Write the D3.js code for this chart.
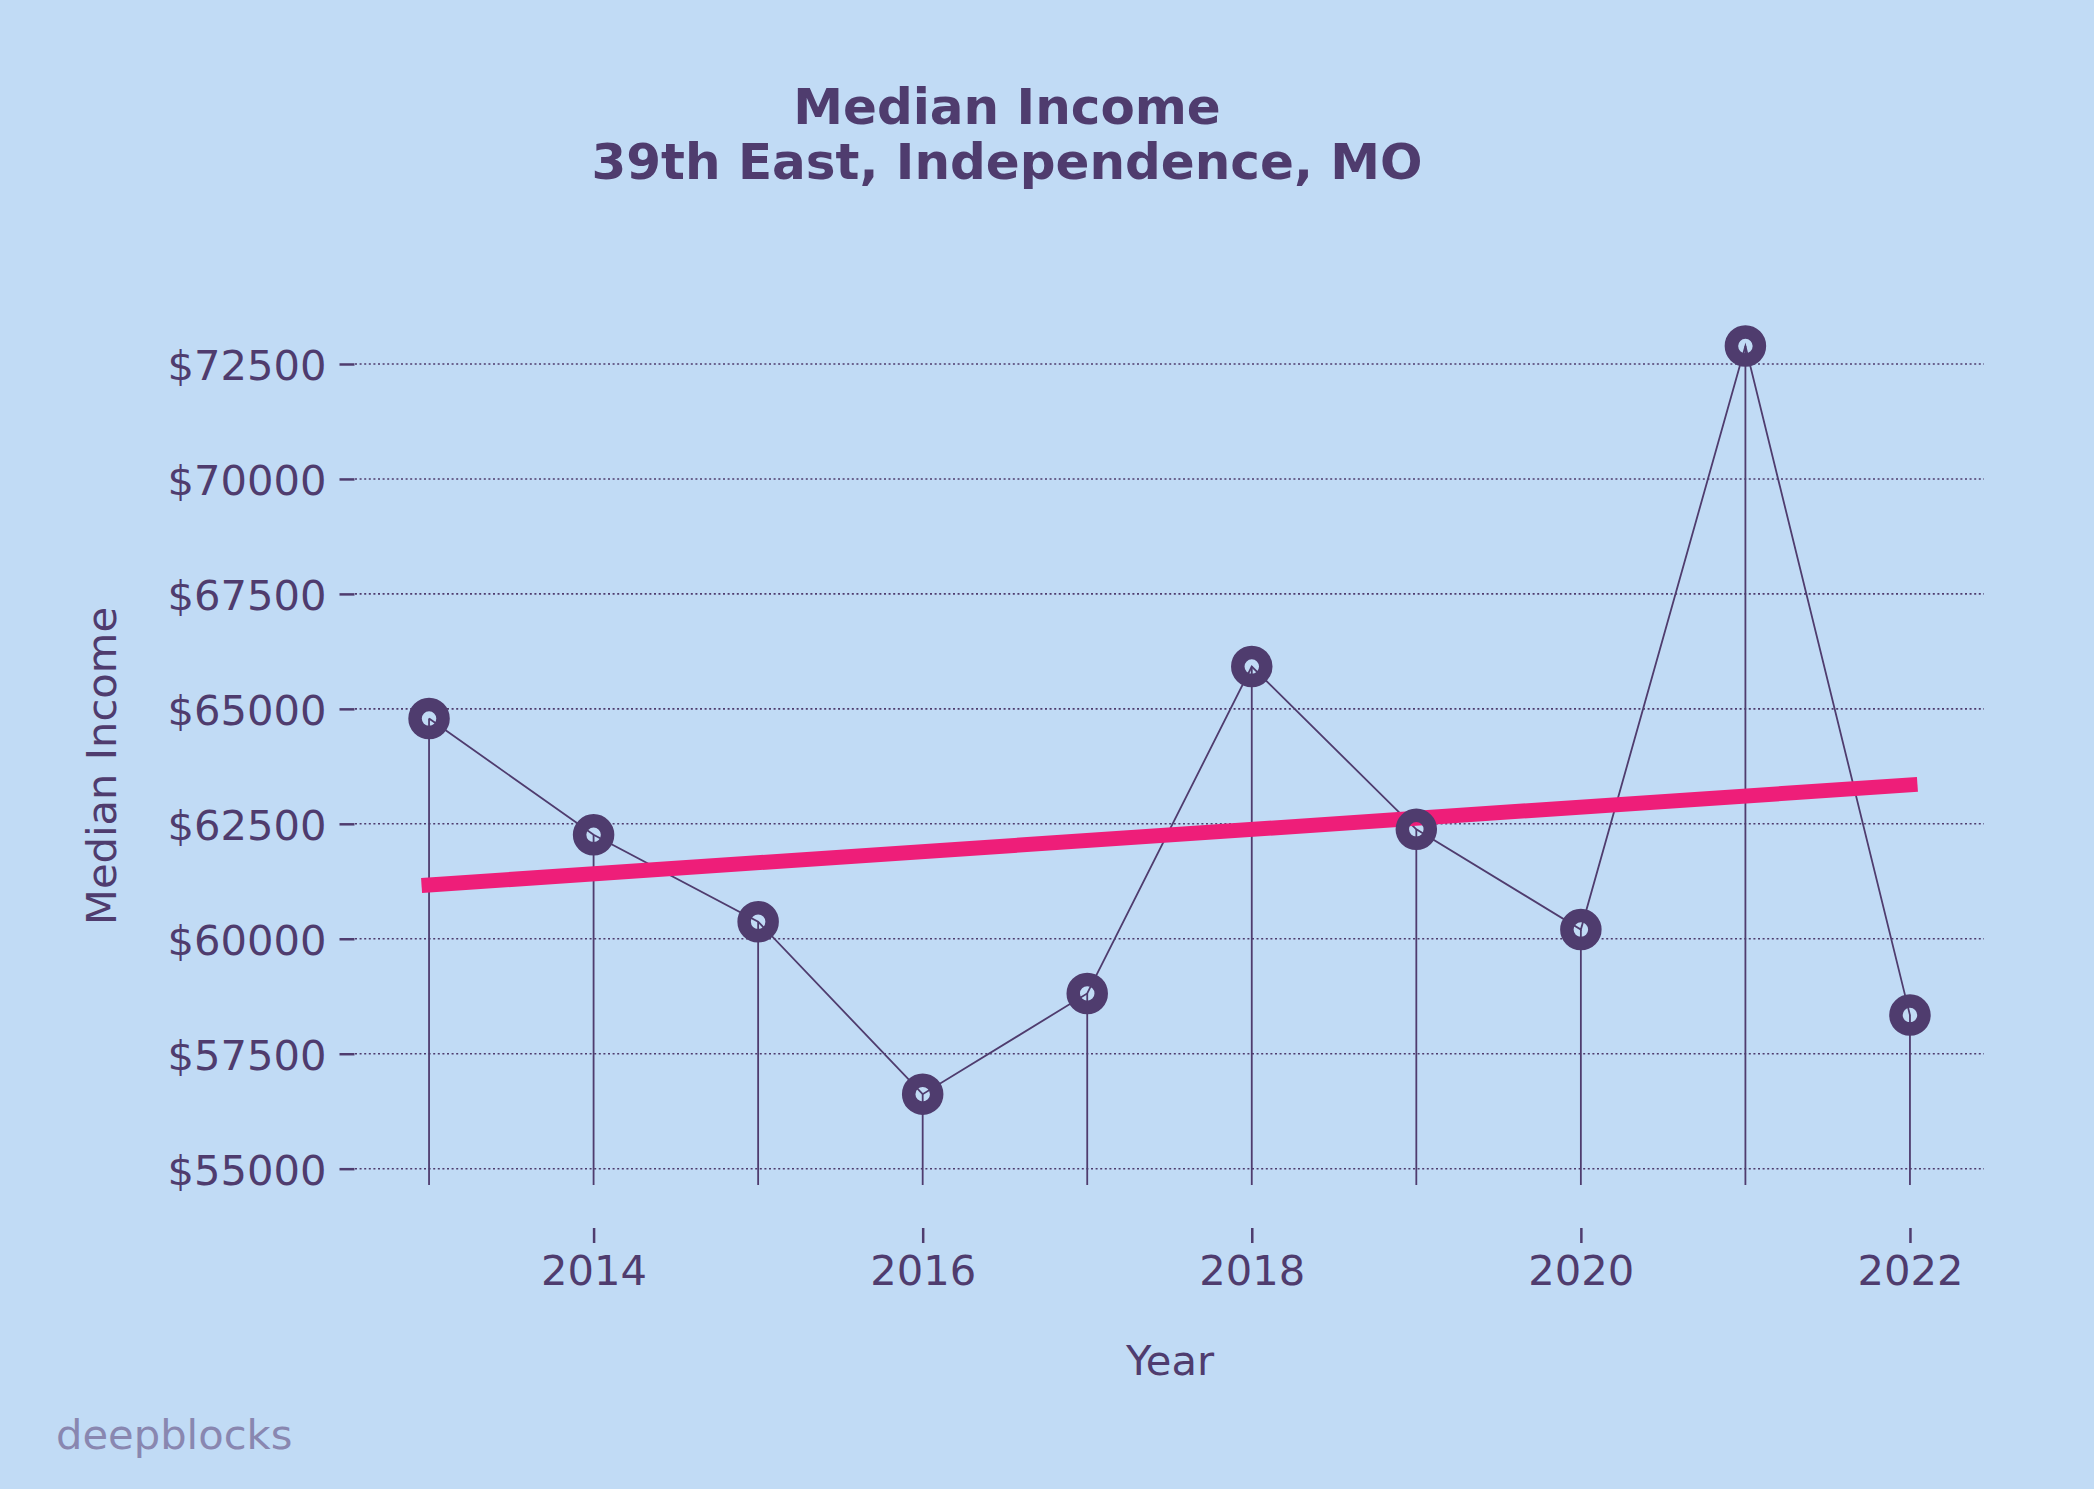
<!DOCTYPE html>
<html>
<head>
<meta charset="utf-8">
<script src="https://cdn.jsdelivr.net/npm/d3@7"></script>
<style>
  html, body { margin: 0; padding: 0; background: #c1dbf5; }
  svg { display: block; }
  text { font-family: "DejaVu Sans", sans-serif; }
</style>
</head>
<body>
<script>
const years = [2013, 2014, 2015, 2016, 2017, 2018, 2019, 2020, 2021, 2022];
const incomes = [64790, 62260, 60370, 56620, 58810, 65920, 62380, 60200, 72890, 58340];
const yTicks = [55000, 57500, 60000, 62500, 65000, 67500, 70000, 72500];
const xTicks = [2014, 2016, 2018, 2020, 2022];
const titleLines = ["Median Income", "39th East, Independence, MO"];

const W = 2094, H = 1489;
const purple = "#4f3c6e";
const pink = "#ee1e79";
const bg = "#c1dbf5";
const fs = 41.67;

const svg = d3.select("body").append("svg").attr("width", W).attr("height", H);
svg.append("rect").attr("width", W).attr("height", H).attr("fill", bg);

const x = d3.scaleLinear().domain([2012.55, 2022.45]).range([355, 1984]);
const y = d3.scaleLinear().domain([54645, 73700]).range([1185, 308.8]);

// gridlines
svg.append("g").selectAll("line").data(yTicks).join("line")
  .attr("x1", x.range()[0]).attr("x2", x.range()[1])
  .attr("y1", d => y(d)).attr("y2", d => y(d))
  .attr("stroke", purple).attr("stroke-width", 1.6).attr("stroke-dasharray", "2,2.6");

// y axis (offset)
const yAxis = d3.axisLeft(y).tickValues(yTicks).tickFormat(d => "$" + d).tickSize(15).tickPadding(13);
const gy = svg.append("g").attr("transform", `translate(${x.range()[0] - 0.5},0)`).call(yAxis);
gy.select(".domain").remove();
gy.selectAll(".tick line").attr("stroke", purple).attr("stroke-width", 2.5);
gy.selectAll(".tick text").attr("fill", purple).attr("font-size", fs).attr("font-family", "DejaVu Sans").attr("dy", "0.37em");

// x axis (offset)
const xAxis = d3.axisBottom(x).tickValues(xTicks).tickFormat(d3.format("d")).tickSize(15).tickPadding(12);
const gx = svg.append("g").attr("transform", `translate(0,1228)`).call(xAxis);
gx.select(".domain").remove();
gx.selectAll(".tick line").attr("stroke", purple).attr("stroke-width", 2.5);
gx.selectAll(".tick text").attr("fill", purple).attr("font-size", fs).attr("font-family", "DejaVu Sans");

// stems
svg.append("g").selectAll("line").data(years).join("line")
  .attr("x1", d => x(d)).attr("x2", d => x(d))
  .attr("y1", (d, i) => y(incomes[i])).attr("y2", y(y.domain()[0]))
  .attr("stroke", purple).attr("stroke-width", 1.8);

// trend line (least squares)
const n = years.length;
const mx = d3.mean(years), my = d3.mean(incomes);
const slope = d3.sum(years, (d, i) => (d - mx) * (incomes[i] - my)) / d3.sum(years, d => (d - mx) ** 2);
const icpt = my - slope * mx;
const x0 = years[0], x1 = years[n - 1];

// connecting line
const line = d3.line().x(d => x(d[0])).y(d => y(d[1]));
svg.append("path").datum(years.map((d, i) => [d, incomes[i]]))
  .attr("d", line).attr("fill", "none").attr("stroke", purple).attr("stroke-width", 1.8);

svg.append("line")
  .attr("x1", x(x0)).attr("y1", y(icpt + slope * x0))
  .attr("x2", x(x1)).attr("y2", y(icpt + slope * x1))
  .attr("stroke", pink).attr("stroke-width", 15).attr("stroke-linecap", "square");

// markers
svg.append("g").selectAll("circle").data(years).join("circle")
  .attr("cx", d => x(d)).attr("cy", (d, i) => y(incomes[i]))
  .attr("r", 14).attr("fill", "none").attr("stroke", purple).attr("stroke-width", 13.5);

// title
svg.append("text").attr("x", 1007).attr("text-anchor", "middle")
  .attr("fill", purple).attr("font-size", 50).attr("font-weight", "bold")
  .selectAll("tspan").data(titleLines).join("tspan")
  .attr("x", 1007).attr("y", (d, i) => 124 + i * 55).text(d => d);

// axis labels
svg.append("text").attr("x", 1170).attr("y", 1375).attr("text-anchor", "middle")
  .attr("fill", purple).attr("font-size", fs).text("Year");
svg.append("text").attr("transform", "translate(116,766) rotate(-90)").attr("text-anchor", "middle")
  .attr("fill", purple).attr("font-size", fs).text("Median Income");

// watermark
svg.append("text").attr("x", 56).attr("y", 1449).attr("fill", "#8987b0")
  .attr("font-size", fs).text("deepblocks");
</script>
</body>
</html>
